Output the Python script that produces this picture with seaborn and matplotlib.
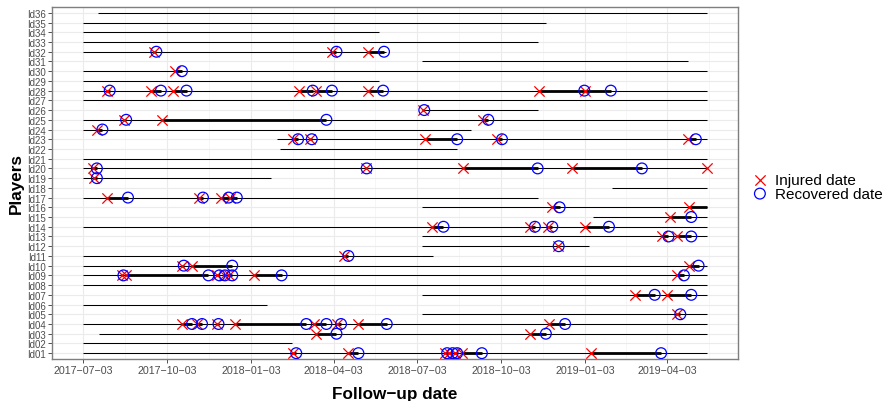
import matplotlib
matplotlib.use("Agg")
import matplotlib.pyplot as plt
import matplotlib.dates as mdates
import seaborn as sns
import pandas as pd

sns.set_theme(style="whitegrid")
plt.rcParams['font.family'] = ['Liberation Sans', 'DejaVu Sans']

players = ["Id01", "Id02", "Id03", "Id04", "Id05", "Id06", "Id07", "Id08", "Id09",
           "Id10", "Id11", "Id12", "Id13", "Id14", "Id15", "Id16", "Id17", "Id18",
           "Id19", "Id20", "Id21", "Id22", "Id23", "Id24", "Id25", "Id26", "Id27",
           "Id28", "Id29", "Id30", "Id31", "Id32", "Id33", "Id34", "Id35", "Id36"]

# follow-up period of every player
follow_start = ["2017-07-03", "2017-07-03", "2017-07-20", "2017-07-03", "2018-07-09", "2017-07-03",
                "2018-07-09", "2017-07-03", "2017-07-03", "2017-07-03", "2017-07-03", "2018-07-09",
                "2018-07-09", "2017-07-03", "2019-01-11", "2018-07-09", "2017-07-03", "2019-02-01",
                "2017-07-03", "2017-07-03", "2017-07-03", "2018-02-03", "2018-01-31", "2017-07-03",
                "2017-07-03", "2018-07-09", "2017-07-03", "2017-07-03", "2017-07-03", "2017-07-03",
                "2018-07-09", "2017-07-03", "2017-07-03", "2017-07-03", "2017-07-03", "2017-07-19"]
follow_end = ["2019-05-16", "2018-02-16", "2019-05-16", "2019-05-16", "2019-05-16", "2018-01-20",
              "2019-05-16", "2019-05-16", "2019-05-16", "2019-05-16", "2018-07-21", "2019-01-07",
              "2019-05-16", "2019-05-16", "2019-05-16", "2019-05-16", "2018-11-12", "2019-05-16",
              "2018-01-24", "2019-05-16", "2019-05-16", "2018-08-16", "2019-05-16", "2018-08-31",
              "2019-05-16", "2018-11-12", "2019-05-16", "2019-05-16", "2018-05-23", "2019-05-16",
              "2019-04-25", "2018-05-30", "2018-11-12", "2018-05-23", "2018-11-21", "2019-05-16"]

# injuries: player, injured date, recovered date (None = not recovered in follow-up)
inj_player = (["Id01"] * 7 + ["Id03"] * 2 + ["Id04"] * 8 + ["Id05"] + ["Id07"] * 2 +
              ["Id09"] * 7 + ["Id10"] * 3 + ["Id11"] + ["Id12"] + ["Id13"] * 2 +
              ["Id14"] * 4 + ["Id15"] + ["Id16"] * 2 + ["Id17"] * 4 + ["Id19"] +
              ["Id20"] * 5 + ["Id23"] * 5 + ["Id24"] + ["Id25"] * 3 + ["Id26"] +
              ["Id28"] * 8 + ["Id30"] + ["Id32"] * 3)
inj_date = ["2018-02-17", "2018-04-19", "2018-08-03", "2018-08-07", "2018-08-14", "2018-08-21", "2019-01-09",
            "2018-03-15", "2018-11-04",
            "2017-10-19", "2017-11-04", "2017-11-26", "2017-12-16", "2018-03-12", "2018-04-07", "2018-04-30", "2018-11-24",
            "2019-04-13",
            "2019-02-27", "2019-04-02",
            "2017-08-14", "2017-08-19", "2017-11-26", "2017-12-04", "2017-12-09", "2018-01-06", "2019-04-13",
            "2017-10-19", "2017-10-30", "2019-04-26",
            "2018-04-14",
            "2018-12-04",
            "2019-03-28", "2019-04-13",
            "2018-07-19", "2018-11-04", "2018-11-23", "2019-01-03",
            "2019-04-06",
            "2018-11-28", "2019-04-27",
            "2017-07-29", "2017-11-07", "2017-12-01", "2017-12-11",
            "2017-07-15",
            "2017-07-14", "2018-05-08", "2018-08-22", "2018-12-20", "2019-05-16",
            "2018-02-18", "2018-03-08", "2018-07-12", "2018-09-29", "2019-04-25",
            "2017-07-18",
            "2017-08-17", "2017-09-27", "2018-09-13",
            "2018-07-10",
            "2017-07-29", "2017-09-15", "2017-10-09", "2018-02-24", "2018-03-15", "2018-05-11", "2018-11-13", "2019-01-03",
            "2017-10-11",
            "2017-09-18", "2018-04-01", "2018-05-11"]
rec_date = ["2018-02-21", "2018-04-30", "2018-08-05", "2018-08-11", "2018-08-16", "2018-09-12", "2019-03-27",
            "2018-04-06", "2018-11-21",
            "2017-10-30", "2017-11-10", "2017-11-28", "2018-03-04", "2018-03-26", "2018-04-11", "2018-05-31", "2018-12-12",
            "2019-04-17",
            "2019-03-20", "2019-04-29",
            "2017-08-16", "2017-11-17", "2017-11-29", "2017-12-05", "2017-12-13", "2018-02-05", "2019-04-21",
            "2017-10-21", "2017-12-13", "2019-05-07",
            "2018-04-19",
            "2018-12-05",
            "2019-04-04", "2019-04-29",
            "2018-08-01", "2018-11-09", "2018-11-28", "2019-01-29",
            "2019-04-29",
            "2018-12-06", None,
            "2017-08-21", "2017-11-11", "2017-12-09", "2017-12-18",
            "2017-07-18",
            "2017-07-18", "2018-05-09", "2018-11-12", "2019-03-06", None,
            "2018-02-23", "2018-03-10", "2018-08-16", "2018-10-04", "2019-05-04",
            "2017-07-24",
            "2017-08-19", "2018-03-26", "2018-09-19",
            "2018-07-11",
            "2017-08-01", "2017-09-26", "2017-10-24", "2018-03-11", "2018-04-01", "2018-05-27", "2019-01-02", "2019-01-31",
            "2017-10-19",
            "2017-09-21", "2018-04-06", "2018-05-28"]

start = pd.to_datetime(follow_start)
end = pd.to_datetime(follow_end)
pos = {p: i for i, p in enumerate(players)}
end_of = dict(zip(players, end))

inj = pd.DataFrame({"player": inj_player,
                    "injured": pd.to_datetime(inj_date),
                    "recovered": pd.to_datetime(rec_date)})
inj["y"] = inj["player"].map(pos)
inj["seg_end"] = inj["recovered"].fillna(inj["player"].map(end_of))
rec = inj.dropna(subset=["recovered"])

fig = plt.figure(figsize=(8.85, 4.02), dpi=100)
ax = fig.add_axes([52 / 885, 42 / 402, 686 / 885, 352 / 402])
ax.set_axisbelow(True)

# follow-up lines and injury periods
ax.hlines(list(range(len(players))), start, end, color="black", lw=0.75, zorder=2)
ax.hlines(inj["y"], inj["injured"], inj["seg_end"], color="black", lw=2, zorder=3)

sns.scatterplot(data=inj, x="injured", y="y", marker="x", color="red", s=55,
                linewidth=0.9, ax=ax, label="Injured date", zorder=4)
sns.scatterplot(data=rec, x="recovered", y="y", marker="o", s=60, facecolor="none",
                edgecolor="blue", linewidth=0.9, ax=ax, label="Recovered date", zorder=5)

lo = start.min()
hi = max(end.max(), inj["injured"].max())
rng = hi - lo
ax.set_xlim(lo - 0.05 * rng, hi + 0.05 * rng)
ax.set_ylim(-0.6, len(players) - 1 + 0.6)

major = pd.date_range("2017-07-03", periods=8, freq=pd.DateOffset(months=3))
major_num = mdates.date2num(major)
minor_num = [(a + b) / 2 for a, b in zip(major_num[:-1], major_num[1:])]
minor_num.append(major_num[-1] + (major_num[-1] - major_num[-2]) / 2)
ax.set_xticks(major_num)
ax.set_xticklabels([d.strftime("%Y-%m-%d").replace("-", "\u2212") for d in major],
                   fontsize=7.7, color="#4D4D4D")
ax.set_xticks(minor_num, minor=True)
ax.set_yticks(range(len(players)))
ax.set_yticklabels(players, fontsize=7, color="#4D4D4D")

ax.grid(which="major", color="#EBEBEB", lw=0.8)
ax.grid(which="minor", axis="x", color="#F3F3F3", lw=0.5)
ax.tick_params(which="major", bottom=True, left=True, length=3, width=0.6,
               color="#333333", pad=1.5)
ax.tick_params(which="minor", length=0)
for s in ax.spines.values():
    s.set_color("#7F7F7F")
    s.set_linewidth(1)

ax.set_xlabel("Follow\u2212up date", fontsize=12.3, fontweight="bold", color="black", labelpad=8)
ax.set_ylabel("Players", fontsize=12.3, fontweight="bold", color="black", labelpad=2)

if ax.get_legend() is not None:
    ax.get_legend().remove()
handles, labels = ax.get_legend_handles_labels()
fig.legend(handles, labels, loc="center left", bbox_to_anchor=(0.850, 1 - 188 / 402),
           frameon=False, fontsize=11, handlelength=1.0, handletextpad=0.5,
           labelspacing=-0.05, borderpad=0, borderaxespad=0)
for t in fig.legends[0].get_texts():
    t.set_color("black")

fig.savefig("out.png", dpi=100)
